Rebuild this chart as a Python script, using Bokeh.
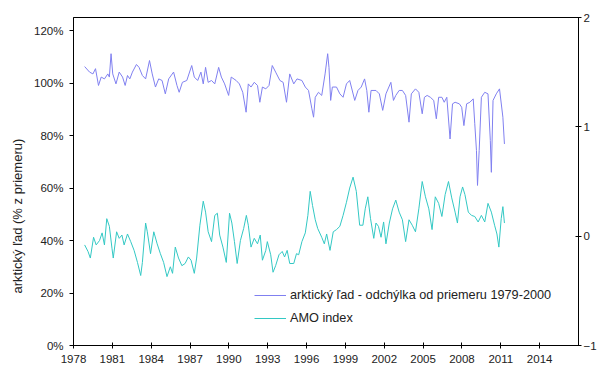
from bokeh.plotting import figure
from bokeh.models import (Range1d, LinearAxis, FixedTicker, PrintfTickFormatter,
                          Legend, LegendItem, Title)
from bokeh.embed import file_html
from bokeh.resources import INLINE

# ---- data ----
ice_year = [1978.86, 1979.24, 1979.50, 1979.70, 1979.93, 1980.14, 1980.39, 1980.65, 1980.77, 1980.90,
            1981.03, 1981.28, 1981.53, 1981.79, 1981.99, 1982.17, 1982.35, 1982.55, 1982.86, 1983.06,
            1983.32, 1983.57, 1983.87, 1984.08, 1984.33, 1984.58, 1984.84, 1985.09, 1985.35, 1985.73,
            1985.99, 1986.16, 1986.41, 1986.75, 1987.13, 1987.33, 1987.59, 1987.84, 1988.02, 1988.20,
            1988.40, 1988.66, 1988.91, 1989.21, 1989.42, 1989.67, 1989.98, 1990.18, 1990.56, 1990.81,
            1991.07, 1991.33, 1991.50, 1991.71, 1991.96, 1992.21, 1992.39, 1992.59, 1992.85, 1993.10,
            1993.35, 1993.61, 1993.94, 1994.19, 1994.45, 1994.70, 1995.01, 1995.26, 1995.64, 1995.90,
            1996.15, 1996.41, 1996.54, 1996.67, 1996.92, 1997.17, 1997.43, 1997.63, 1997.73, 1997.86,
            1997.99, 1998.31, 1998.57, 1998.82, 1999.08, 1999.33, 1999.46, 1999.72, 1999.97, 2000.22,
            2000.48, 2000.65, 2000.81, 2000.98, 2001.36, 2001.62, 2001.88, 2002.13, 2002.51, 2002.71,
            2002.89, 2003.15, 2003.40, 2003.65, 2003.91, 2004.09, 2004.41, 2004.67, 2004.93, 2005.10,
            2005.31, 2005.56, 2005.82, 2006.02, 2006.20, 2006.45, 2006.63, 2006.83, 2007.08, 2007.27,
            2007.47, 2007.80, 2007.98, 2008.15, 2008.36, 2008.61, 2008.87, 2008.99, 2009.12, 2009.20,
            2009.33, 2009.50, 2009.76, 2010.01, 2010.19, 2010.27, 2010.40, 2010.65, 2010.90, 2011.16,
            2011.28]
ice_pct = [106.3, 104.2, 103.5, 105.5, 99.1, 102.3, 101.6, 103.5, 102.3, 111.2,
           103.5, 99.7, 104.2, 102.3, 99.1, 102.9, 101.6, 104.2, 107.1, 106.0,
           102.9, 101.6, 108.6, 103.5, 98.5, 101.6, 101.0, 95.9, 101.6, 104.2,
           99.1, 96.5, 100.3, 101.0, 106.7, 102.3, 101.0, 104.2, 99.7, 106.0,
           100.3, 101.0, 99.7, 106.0, 102.3, 99.7, 95.3, 102.3, 101.0, 99.7,
           96.5, 88.9, 99.7, 98.5, 100.3, 99.1, 92.7, 98.5, 97.8, 99.1,
           106.7, 104.2, 101.0, 100.3, 92.7, 103.5, 99.7, 101.6, 101.0, 98.5,
           97.2, 90.2, 87.0, 94.6, 96.5, 95.3, 103.5, 111.2, 106.0, 93.4,
           98.5, 98.5, 95.9, 94.6, 99.7, 101.0, 98.5, 93.4, 97.2, 98.5,
           101.6, 97.2, 88.9, 97.2, 97.2, 95.9, 89.6, 95.9, 100.3, 93.4,
           95.3, 97.2, 97.2, 95.3, 85.1, 95.9, 97.8, 96.5, 88.3, 94.6,
           95.3, 94.6, 93.4, 86.4, 94.6, 94.6, 92.7, 94.6, 78.7, 92.1,
           92.7, 92.1, 90.8, 83.8, 92.1, 92.7, 94.0, 84.5, 74.3, 61.0,
           74.3, 94.6, 96.5, 95.9, 78.1, 66.0, 93.4, 95.9, 97.8, 87.0,
           76.8]

amo_year = [1978.86, 1979.12, 1979.30, 1979.55, 1979.75, 1980.01, 1980.21, 1980.39, 1980.57, 1980.77,
            1980.97, 1981.07, 1981.33, 1981.53, 1981.74, 1981.91, 1982.17, 1982.42, 1982.68, 1982.94,
            1983.19, 1983.32, 1983.57, 1983.70, 1983.95, 1984.20, 1984.46, 1984.71, 1984.96, 1985.22,
            1985.48, 1985.65, 1985.86, 1986.11, 1986.37, 1986.62, 1986.87, 1987.08, 1987.33, 1987.51,
            1987.76, 1988.02, 1988.20, 1988.40, 1988.66, 1988.91, 1989.11, 1989.29, 1989.54, 1989.80,
            1990.05, 1990.23, 1990.43, 1990.64, 1990.89, 1991.14, 1991.35, 1991.50, 1991.71, 1991.96,
            1992.21, 1992.42, 1992.59, 1992.85, 1992.97, 1993.23, 1993.41, 1993.61, 1993.87, 1994.12,
            1994.30, 1994.50, 1994.70, 1995.01, 1995.22, 1995.39, 1995.64, 1995.90, 1996.10, 1996.28,
            1996.46, 1996.67, 1996.86, 1997.17, 1997.37, 1997.55, 1997.81, 1998.06, 1998.31, 1998.57,
            1998.82, 1999.08, 1999.33, 1999.59, 1999.84, 2000.10, 2000.35, 2000.53, 2000.73, 2000.94,
            2001.19, 2001.36, 2001.55, 2001.75, 2001.95, 2002.13, 2002.39, 2002.64, 2002.89, 2003.15,
            2003.40, 2003.65, 2003.91, 2004.16, 2004.41, 2004.67, 2004.93, 2005.18, 2005.44, 2005.69,
            2005.94, 2006.20, 2006.45, 2006.70, 2006.96, 2007.21, 2007.47, 2007.65, 2007.85, 2008.05,
            2008.23, 2008.49, 2008.74, 2008.99, 2009.25, 2009.50, 2009.76, 2010.01, 2010.27, 2010.52,
            2010.70, 2010.85, 2011.03, 2011.16, 2011.28]
amo_val = [-0.08, -0.14, -0.20, -0.01, -0.08, -0.04, 0.03, -0.08, 0.16, 0.09,
           -0.11, -0.20, 0.04, -0.02, 0.01, -0.08, 0.02, -0.05, -0.13, -0.24,
           -0.36, -0.24, 0.12, 0.04, -0.16, 0.04, -0.07, -0.16, -0.24, -0.37,
           -0.28, -0.34, -0.10, -0.20, -0.27, -0.25, -0.19, -0.22, -0.34, -0.20,
           0.10, 0.32, 0.22, 0.04, -0.05, 0.19, 0.21, 0.01, -0.10, -0.24,
           0.21, 0.12, -0.05, -0.25, -0.04, 0.07, 0.19, 0.10, -0.10, -0.02,
           -0.07, 0.01, -0.22, -0.13, -0.05, -0.17, -0.33, -0.27, -0.17, -0.14,
           -0.19, -0.13, -0.25, -0.25, -0.16, -0.17, -0.05, 0.03, 0.19, 0.41,
           0.28, 0.15, 0.07, -0.01, -0.07, 0.02, -0.13, 0.04, 0.06, 0.09,
           0.19, 0.31, 0.44, 0.54, 0.41, 0.10, 0.10, 0.25, 0.36, 0.16,
           -0.02, 0.12, 0.09, -0.01, 0.13, -0.07, 0.12, 0.25, 0.33, 0.22,
           0.15, -0.05, 0.15, 0.10, 0.04, 0.25, 0.50, 0.36, 0.25, 0.06,
           0.36, 0.30, 0.18, 0.38, 0.50, 0.35, 0.22, 0.12, 0.36, 0.45,
           0.38, 0.22, 0.19, 0.18, 0.13, 0.19, 0.13, 0.30, 0.22, 0.10,
           0.02, -0.10, 0.16, 0.27, 0.12]

x_ticks = [1978, 1981, 1984, 1987, 1990, 1993, 1996, 1999, 2002, 2005, 2008, 2011, 2014]
left_ticks = [0, 20, 40, 60, 80, 100, 120]
right_ticks = [-1, 0, 1, 2]

ice_label = "arktický ľad - odchýlka od priemeru 1979-2000"
amo_label = "AMO index"
y_label = "arktický ľad (% z priemeru)"

FONT = "Liberation Sans"
ICE_COLOR = "#8080F0"
AMO_COLOR = "#33C8C4"

p = figure(width=599, height=374, output_backend="svg", toolbar_location=None,
           x_range=Range1d(1978, 2017), y_range=Range1d(0, 125),
           min_border_left=72, min_border_right=17, min_border_top=17, min_border_bottom=29)
p.extra_y_ranges = {"amo": Range1d(-1, 2)}

p.xgrid.visible = False
p.ygrid.visible = False
p.outline_line_color = "black"
p.outline_line_width = 1
p.background_fill_color = "white"
p.border_fill_color = "white"

r_ice = p.line(ice_year, ice_pct, line_color=ICE_COLOR, line_width=1)
r_amo = p.line(amo_year, amo_val, line_color=AMO_COLOR, line_width=1, y_range_name="amo")

def style_axis(ax, tin, tout, standoff):
    ax.axis_line_color = "black"
    ax.major_tick_line_color = "black"
    ax.minor_tick_line_color = None
    ax.major_tick_in = tin
    ax.major_tick_out = tout
    ax.major_label_standoff = standoff
    ax.major_label_text_font = FONT
    ax.major_label_text_font_size = "11.5px"
    ax.major_label_text_color = "#222222"

xa = p.xaxis[0]
xa.ticker = FixedTicker(ticks=x_ticks)
style_axis(xa, 3, 3, 6)

ya = p.yaxis[0]
ya.ticker = FixedTicker(ticks=left_ticks)
ya.formatter = PrintfTickFormatter(format="%d%%")
style_axis(ya, 0, 4, 6)

ra = LinearAxis(y_range_name="amo", ticker=FixedTicker(ticks=right_ticks))
style_axis(ra, 3, 3, 2)
p.add_layout(ra, "right")

p.add_layout(Title(text=y_label, align="left", offset=52, text_font=FONT,
                   text_font_size="13px", text_font_style="normal",
                   text_color="#222222", standoff=14), "left")

legend = Legend(items=[LegendItem(label=ice_label, renderers=[r_ice]),
                       LegendItem(label=amo_label, renderers=[r_amo])],
                location=(181, 20), padding=0, margin=0, spacing=9,
                glyph_width=32, glyph_height=14, label_height=14, label_standoff=4,
                label_text_font=FONT, label_text_font_size="12.7px",
                label_text_color="#222222",
                border_line_alpha=0, background_fill_alpha=0)
p.add_layout(legend)

open("out.html", "w").write(file_html(p, INLINE))
